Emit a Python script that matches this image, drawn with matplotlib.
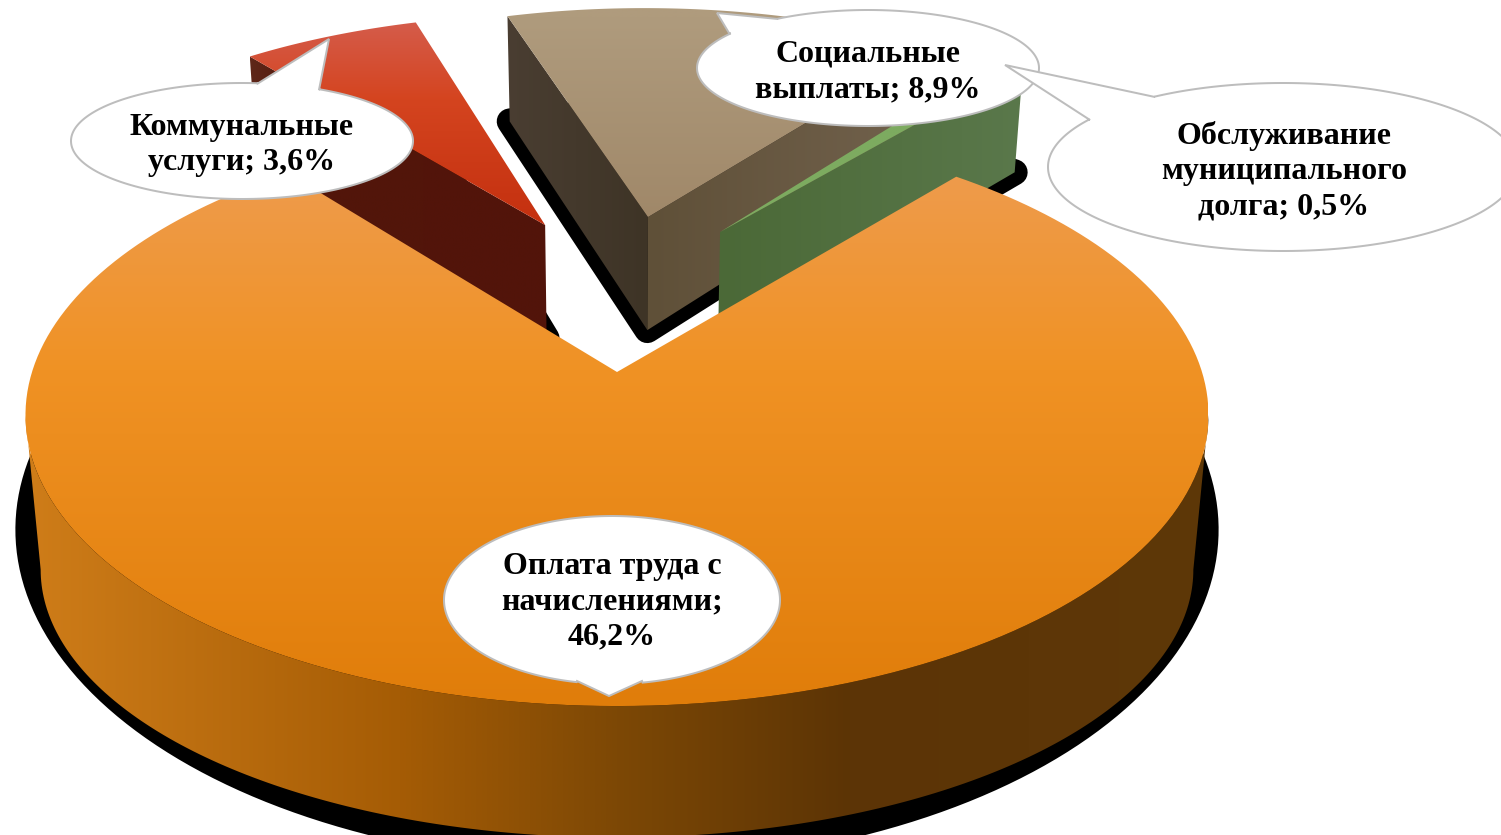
"""Exploded 3D-looking pie of budget spending, with speech-bubble labels."""

from __future__ import annotations

import matplotlib

matplotlib.use("Agg")
import matplotlib.pyplot as plt
import numpy as np
from matplotlib.patches import Polygon

# --- data -------------------------------------------------------------------
names = ["Оплата труда с\nначислениями", "Коммунальные\nуслуги",
         "Социальные\nвыплаты", "Обслуживание\nмуниципального\nдолга"]
values = [46.2, 3.6, 8.9, 0.5]
label_seps = ["\n", " ", " ", " "]

# --- layout (pixels of the 1501x835 picture) --------------------------------
W, H = 1501, 835
CX, CY = 617, 372          # pie centre on the top plane
PERSP = 0.148
START = 49.8               # degrees; slices run clockwise from here
PX = 0.72                  # one pixel in points at dpi 100

# planes as (x scale, y scale, centre y)
TOP_PLANE = (585, 284.6, CY)
RIM_PLANE = (570, 262, 530)
WALL_PLANE = (573, 295.6, 491)
FLOOR_SHADOW = (595, 328, 480)

# slice offsets on the plate, in pie radii
explode = [(0.0, 0.0), (-0.133, 0.559), (0.0576, 0.592), (0.19, 0.5305)]
radius = [1.0, 0.985, 0.985, 0.985]
shadow_px = [0, 26, 26, 26]
draw_order = [2, 1, 3, 0]

top_stops = [
    [(180, "#ee9b4b"), (370, "#f09224"), (706, "#e07d0a")],
    [(22, "#d55c4b"), (100, "#d4441f"), (225, "#c4300f")],
    [(18, "#af9b7d"), (217, "#a08869")],
    [(100, "#7dab60"), (232, "#7dab60")],
]
outer_stops = [(25, "#cf7d19"), (400, "#a55c05"), (617, "#7d4805"),
               (850, "#5c3406"), (1209, "#5e3808")]
# which radial walls can be seen: slice -> list of (edge, colour stops over x)
walls = {
    1: [(0, [(247, "#5f281a"), (300, "#52160a"), (545, "#52140a")])],
    2: [(0, [(505, "#4a3e32"), (648, "#3e3426")]),
        (1, [(648, "#5f5038"), (900, "#70604b")])],
    3: [(1, [(720, "#4b6937"), (1022, "#5a784b")])],
}

# callout: ellipse centre, radii, tail base A, tip, tail base B, text centre
callouts = [
    ((612, 600), (168, 84), (577, 681), (609, 696), (642, 681), (612, 602)),
    ((242, 141), (171, 58), (257, 84), (329, 39), (319, 90), (242, 145)),
    ((868, 68), (171, 58), (729, 33), (717, 13), (778, 19), (868, 72)),
    ((1283, 167), (235, 84), (1090, 120), (1005, 65), (1155, 97), (1284, 171)),
]


def project(u, v, plane=TOP_PLANE):
    """Plate coordinates to picture pixels on one of the planes."""
    ax_, ay_, cy = plane
    w = 1 + PERSP * np.asarray(v)
    return CX + ax_ * np.asarray(u) / w, cy - ay_ * np.asarray(v) / w


def slice_angles():
    """Start and end angle of every slice, from the values."""
    sweeps = 360 * np.array(values) / sum(values)
    ends = START - np.cumsum(sweeps)
    starts = np.concatenate([[START], ends[:-1]])
    return starts, ends


def wedge_plate(i, a0, a1, n=200):
    t = np.radians(np.linspace(a0, a1, n))
    ox, oy = explode[i]
    r = radius[i]
    return np.r_[ox, ox + r * np.cos(t)], np.r_[oy, oy + r * np.sin(t)]


def gradient_fill(ax, verts, stops, axis, zorder):
    """Fill a polygon with a colour ramp along x or y, through a clipped image."""
    verts = np.asarray(verts)
    x0, y0 = verts.min(axis=0)
    x1, y1 = verts.max(axis=0)
    pos = [s[0] for s in stops]
    rgb = np.array([matplotlib.colors.to_rgb(s[1]) for s in stops])
    if axis == "x":
        grid = np.linspace(x0, x1, 512)
        ramp = np.stack([np.interp(grid, pos, rgb[:, c]) for c in range(3)], axis=-1)[None, :, :]
    else:
        grid = np.linspace(y0, y1, 512)
        ramp = np.stack([np.interp(grid, pos, rgb[:, c]) for c in range(3)], axis=-1)[:, None, :]
    im = ax.imshow(ramp, extent=(x0, x1, y1, y0), origin="upper", aspect="auto",
                   zorder=zorder, interpolation="bilinear")
    clip = Polygon(verts, closed=True, transform=ax.transData, fc="none", ec="none")
    ax.add_patch(clip)
    im.set_clip_path(clip)


def draw_shadows(ax, starts, ends):
    for i in draw_order:
        u, v = wedge_plate(i, starts[i], ends[i])
        x, y = project(u, v, FLOOR_SHADOW if i == 0 else WALL_PLANE)
        ax.add_patch(Polygon(np.column_stack([x, y]), closed=True, fc="black", ec="black",
                             lw=shadow_px[i] * PX, joinstyle="round", zorder=1))


def draw_slice(ax, i, a0, a1, zorder):
    u, v = wedge_plate(i, a0, a1)
    ox, oy = explode[i]
    r = radius[i]
    if i == 0:
        # near side of the rim only, between the two silhouette points
        t = np.radians(np.linspace(188.5, 351.5, 200))
        ru, rv = np.cos(t), np.sin(t)
        xt, yt = project(ru, rv)
        xb, yb = project(ru, rv, RIM_PLANE)
        verts = np.column_stack([np.r_[xt, xb[::-1]], np.r_[yt, yb[::-1]]])
        gradient_fill(ax, verts, outer_stops, "x", zorder)
    for edge, stops in walls.get(i, []):
        ang = np.radians(a0 if edge == 0 else a1)
        eu = np.array([ox, ox + r * np.cos(ang)])
        ev = np.array([oy, oy + r * np.sin(ang)])
        xt, yt = project(eu, ev)
        xb, yb = project(eu, ev, WALL_PLANE)
        verts = np.column_stack([np.r_[xt, xb[::-1]], np.r_[yt, yb[::-1]]])
        gradient_fill(ax, verts, stops, "x", zorder + 0.1 * (edge + 1))
    x, y = project(u, v)
    gradient_fill(ax, np.column_stack([x, y]), top_stops[i], "y", zorder + 0.5)


def callout_path(centre, radii, base_a, tip, base_b):
    """Ellipse outline with a pointed tail between two points on it."""
    cx, cy = centre
    rx, ry = radii
    a0 = np.arctan2((base_a[1] - cy) / ry, (base_a[0] - cx) / rx)
    a1 = np.arctan2((base_b[1] - cy) / ry, (base_b[0] - cx) / rx)
    # go the long way round, from B back to A
    sweep = (a0 - a1) % (2 * np.pi)
    if sweep < np.pi:
        sweep -= 2 * np.pi
    t = a1 + np.linspace(0, sweep, 300)
    return np.vstack([np.column_stack([cx + rx * np.cos(t), cy + ry * np.sin(t)]),
                      [base_a], [tip], [base_b]])


def draw_callouts(ax):
    for i, (centre, radii, a, tip, b, tc) in enumerate(callouts):
        verts = callout_path(centre, radii, a, tip, b)
        ax.add_patch(Polygon(verts, closed=True, fc="white", ec="#bdbdbd", lw=2 * PX,
                             joinstyle="miter", zorder=20))
        value = f"{values[i]:.1f}".replace(".", ",")
        ax.text(tc[0], tc[1], f"{names[i]};{label_seps[i]}{value}%", ha="center", va="center",
                multialignment="center", family=["Liberation Serif", "DejaVu Serif"],
                weight="bold", fontsize=23, linespacing=1.28, color="black", zorder=21)


def main() -> None:
    fig = plt.figure(figsize=(W / 100, H / 100), dpi=100)
    ax = fig.add_axes([0, 0, 1, 1])
    starts, ends = slice_angles()
    draw_shadows(ax, starts, ends)
    for k, i in enumerate(draw_order):
        draw_slice(ax, i, starts[i], ends[i], zorder=2 + k)
    draw_callouts(ax)
    ax.set_xlim(0, W)
    ax.set_ylim(H, 0)
    ax.axis("off")
    fig.savefig("out.png", dpi=100)


if __name__ == "__main__":
    main()
